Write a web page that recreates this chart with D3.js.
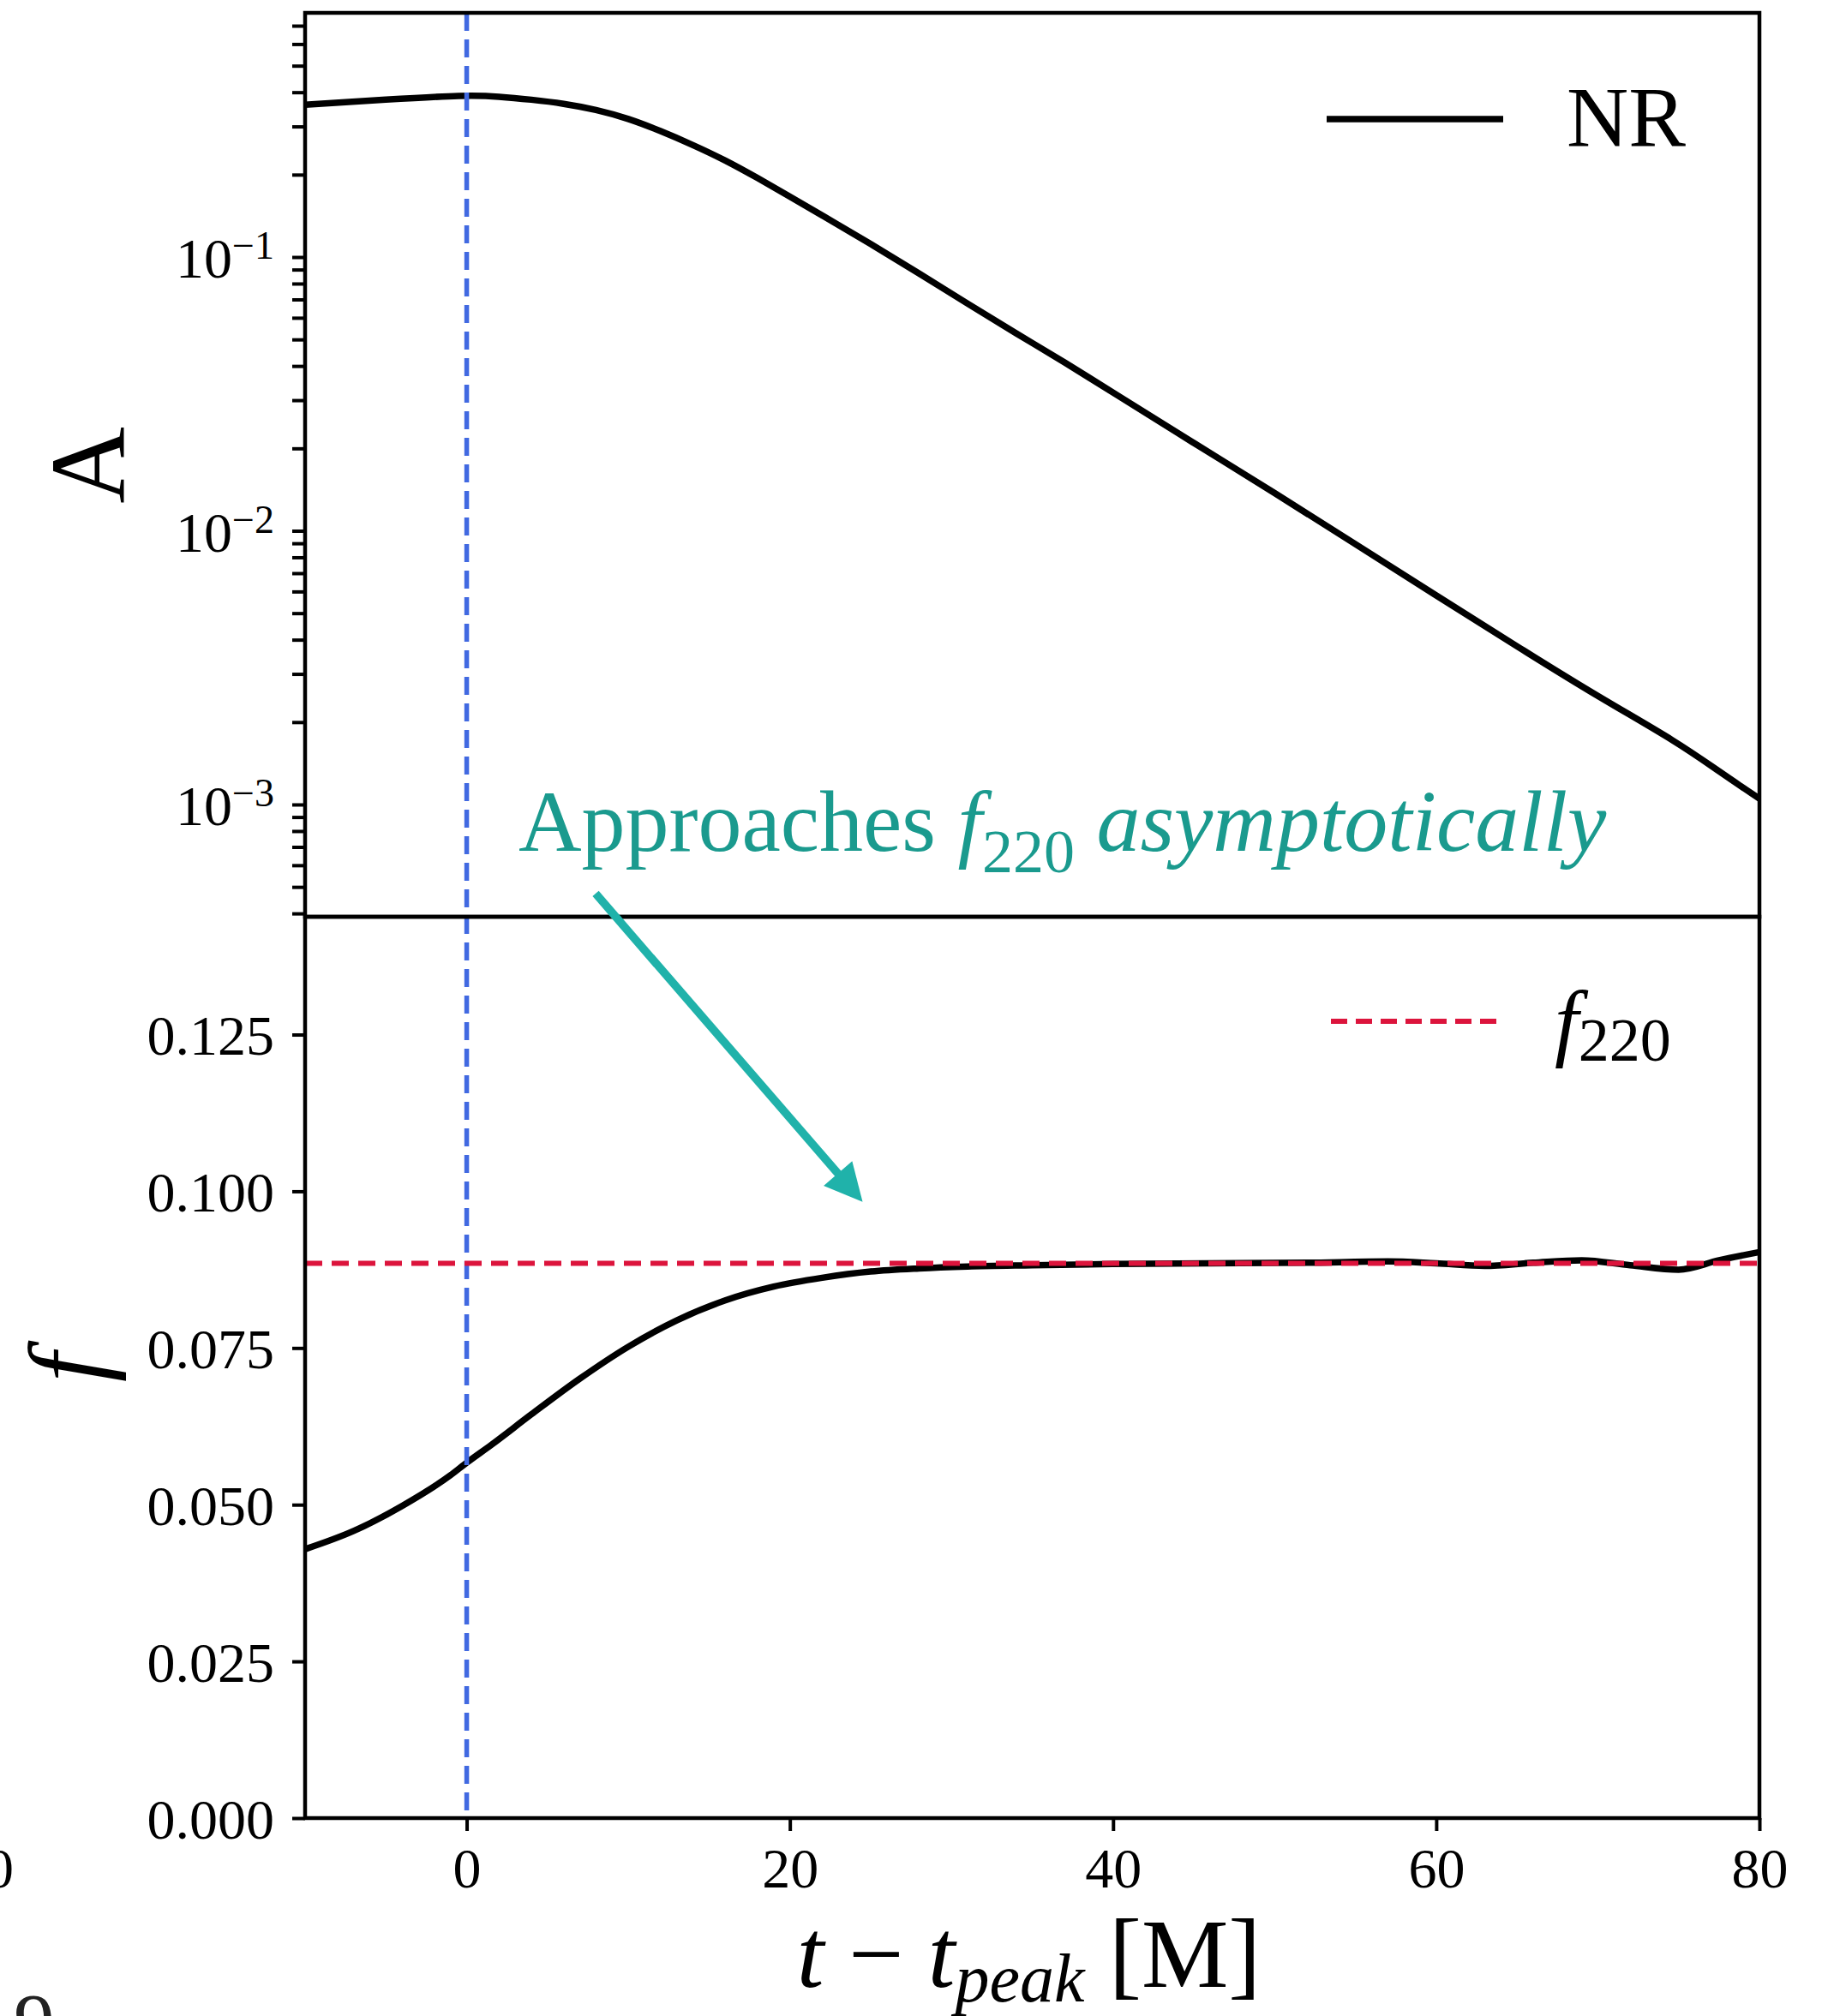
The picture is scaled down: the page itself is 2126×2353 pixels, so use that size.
<!DOCTYPE html>
<html>
<head>
<meta charset="utf-8">
<script src="https://cdn.jsdelivr.net/npm/d3@7"></script>
<style>
    body { margin: 0; background: white; }
    svg { display: block; }
</style>
</head>
<body>
<main></main>
<script>
// amplitude of the NR waveform (upper panel, log axis)
const timesA = [-10, -5, 0, 2, 4, 6, 8, 10, 12, 14, 16, 18, 20, 22, 25, 28, 31, 34, 37, 40, 45, 50, 55, 60, 65, 70, 75, 77.5, 80]
const amplitude = [0.360, 0.376, 0.391, 0.386, 0.376, 0.364, 0.346, 0.321, 0.289, 0.257, 0.226, 0.1945, 0.1663, 0.1419, 0.1117, 0.0872, 0.0675, 0.0526, 0.0413, 0.0320, 0.0209, 0.01377, 0.00893, 0.0058, 0.00378, 0.00248, 0.00168, 0.00132, 0.00105]

// frequency of the NR waveform (lower panel)
const timesF = [-10, -7, -4, -1, 0, 1.5, 4, 7, 10, 13, 16, 19, 22, 25, 28, 31, 35, 40, 46, 52, 57, 60, 63, 66, 69, 72, 75, 77.5, 80]
const frequency = [0.0429, 0.0458, 0.0498, 0.0547, 0.0567, 0.0595, 0.0644, 0.0701, 0.0752, 0.0794, 0.0826, 0.0848, 0.0862, 0.0872, 0.0877, 0.0880, 0.0882, 0.0884, 0.0885, 0.0886, 0.0888, 0.0885, 0.0881, 0.0886, 0.0890, 0.0882, 0.0875, 0.0890, 0.0903]

const f220 = 0.0885
const tPeak = 0

const xTicks = [0, 20, 40, 60, 80]
const ampMajor = [1e-1, 1e-2, 1e-3]
const ampExponents = ["−1", "−2", "−3"]
const freqTicks = [0, 0.025, 0.05, 0.075, 0.1, 0.125]

// annotation arrow, in (t, f) of the lower panel
const arrowFrom = [7.98, 0.1475]
const arrowTo = [24.5, 0.0983]
const notePos = [3.2, 0.1543]

const svgWidth = 2126
const svgHeight = 2353

const left = 356
const right = 2053
const topA = 15
const midY = 1070
const bottomF = 2122

const font = "'Liberation Serif', 'Times New Roman', serif"
const tickFont = 66
const teal = "#1a9a8e"
const arrowTeal = "#20b2aa"

let svg = d3.select("main")
    .append("svg")
    .attr("width", svgWidth)
    .attr("height", svgHeight)
    .style("background-color", "white")
    .style("font-family", font)

let xScale = d3.scaleLinear()
    .domain([-10, 80])
    .range([left, right])

let yAmp = d3.scaleLog()
    .domain([3.89e-4, 0.78])
    .range([midY, topA])

let yFreq = d3.scaleLinear()
    .domain([0, 0.1438])
    .range([bottomF, midY])

// ---- upper panel axis (log, major + minor ticks)
let minorTicks = yAmp.ticks().filter(v => !ampMajor.some(m => Math.abs(v - m) / m < 1e-6))

let ampAxis = svg.append("g")
    .attr("transform", `translate(${left}, 0)`)
    .call(d3.axisLeft(yAmp).tickValues(ampMajor.concat(minorTicks)).tickSize(15).tickSizeOuter(0).tickFormat(""))
ampAxis.select(".domain").remove()
ampAxis.selectAll("line").attr("stroke", "black").attr("stroke-width", 4)

let ampLabels = svg.append("g")
    .selectAll("text")
    .data(ampMajor)
    .enter()
    .append("text")
    .attr("x", left - 36)
    .attr("y", d => yAmp(d) + 24)
    .attr("text-anchor", "end")
    .style("font-size", tickFont + "px")
    .attr("fill", "black")

ampLabels.append("tspan").text("10")
ampLabels.append("tspan")
    .attr("dy", -22)
    .style("font-size", "46px")
    .text((d, i) => ampExponents[i])

// ---- lower panel axes
let freqAxis = svg.append("g")
    .attr("transform", `translate(${left}, 0)`)
    .call(d3.axisLeft(yFreq).tickValues(freqTicks).tickSize(15).tickSizeOuter(0).tickPadding(21).tickFormat(d3.format(".3f")))
freqAxis.select(".domain").remove()
freqAxis.selectAll("line").attr("stroke", "black").attr("stroke-width", 4)
freqAxis.selectAll("text")
    .attr("dy", "0.35em")
    .style("font-size", tickFont + "px")
    .style("font-family", font)
    .attr("fill", "black")

let timeAxis = svg.append("g")
    .attr("transform", `translate(0, ${bottomF})`)
    .call(d3.axisBottom(xScale).tickValues(xTicks).tickSize(15).tickSizeOuter(0).tickPadding(21))
timeAxis.select(".domain").remove()
timeAxis.selectAll("line").attr("stroke", "black").attr("stroke-width", 4)
timeAxis.selectAll("text")
    .attr("dy", "0.68em")
    .style("font-size", tickFont + "px")
    .style("font-family", font)
    .attr("fill", "black")

// ---- curves
let ampLine = d3.line()
    .x((d, i) => xScale(timesA[i]))
    .y(d => yAmp(d))
    .curve(d3.curveBasis)

let freqLine = d3.line()
    .x((d, i) => xScale(timesF[i]))
    .y(d => yFreq(d))
    .curve(d3.curveMonotoneX)

svg.append("path")
    .datum(amplitude)
    .attr("d", ampLine)
    .attr("fill", "none")
    .attr("stroke", "black")
    .attr("stroke-width", 7.5)

svg.append("path")
    .datum(frequency)
    .attr("d", freqLine)
    .attr("fill", "none")
    .attr("stroke", "black")
    .attr("stroke-width", 7.5)

// t_peak marker through both panels
svg.append("line")
    .attr("x1", xScale(tPeak))
    .attr("x2", xScale(tPeak))
    .attr("y1", yAmp.range()[1])
    .attr("y2", yFreq.range()[0])
    .attr("stroke", "#4169e1")
    .attr("stroke-width", 5.5)
    .attr("stroke-dasharray", "21 10")

// f220 reference level
svg.append("line")
    .attr("x1", left)
    .attr("x2", right)
    .attr("y1", yFreq(f220))
    .attr("y2", yFreq(f220))
    .attr("stroke", "#dc143c")
    .attr("stroke-width", 6)
    .attr("stroke-dasharray", "20 11")

// ---- frames
svg.append("rect")
    .attr("x", left).attr("y", topA)
    .attr("width", right - left).attr("height", midY - topA)
    .attr("fill", "none").attr("stroke", "black").attr("stroke-width", 4.5)

svg.append("rect")
    .attr("x", left).attr("y", midY)
    .attr("width", right - left).attr("height", bottomF - midY)
    .attr("fill", "none").attr("stroke", "black").attr("stroke-width", 4.5)

// ---- legends
svg.append("line")
    .attr("x1", 1548).attr("x2", 1754)
    .attr("y1", 139).attr("y2", 139)
    .attr("stroke", "black").attr("stroke-width", 7.5)

svg.append("text")
    .attr("x", 1828).attr("y", 170)
    .style("font-size", "100px")
    .text("NR")

svg.append("line")
    .attr("x1", 1553).attr("x2", 1754)
    .attr("y1", 1192).attr("y2", 1192)
    .attr("stroke", "#dc143c").attr("stroke-width", 6)
    .attr("stroke-dasharray", "19 10")

let legF = svg.append("text")
    .attr("x", 1814).attr("y", 1226)
    .style("font-size", "100px")
legF.append("tspan").style("font-style", "italic").text("f")
legF.append("tspan").attr("dy", 12).style("font-size", "72px").text("220")

// ---- axis labels
svg.append("text")
    .attr("transform", "translate(145, 543) rotate(-90)")
    .attr("text-anchor", "middle")
    .style("font-size", "124px")
    .text("A")

svg.append("text")
    .attr("transform", "translate(120, 1596) rotate(-90)")
    .attr("text-anchor", "middle")
    .style("font-size", "124px")
    .style("font-style", "italic")
    .text("f")

let xLabel = svg.append("text")
    .attr("x", (left + right) / 2 - 4)
    .attr("y", 2319)
    .attr("text-anchor", "middle")
    .style("font-size", "114px")
xLabel.append("tspan").style("font-style", "italic").text("t")
xLabel.append("tspan").text(" − ")
xLabel.append("tspan").style("font-style", "italic").text("t")
xLabel.append("tspan").attr("dy", 17).style("font-style", "italic").style("font-size", "80px").text("peak")
xLabel.append("tspan").attr("dy", -17).text(" [M]")

// ---- annotation
let note = svg.append("text")
    .attr("x", xScale(notePos[0]))
    .attr("y", yFreq(notePos[1]))
    .attr("fill", teal)
    .style("font-size", "102px")
note.append("tspan").text("Approaches ")
note.append("tspan").style("font-style", "italic").text("f")
note.append("tspan").attr("dy", 25).style("font-size", "72px").text("220")
note.append("tspan").attr("dy", -25).style("font-style", "italic").text(" asymptotically")

let p0 = [xScale(arrowFrom[0]), yFreq(arrowFrom[1])]
let p1 = [xScale(arrowTo[0]), yFreq(arrowTo[1])]
let len = Math.hypot(p1[0] - p0[0], p1[1] - p0[1])
let ux = (p1[0] - p0[0]) / len
let uy = (p1[1] - p0[1]) / len
let headLen = 44
let headHalf = 22
let base = [p1[0] - ux * headLen, p1[1] - uy * headLen]

svg.append("line")
    .attr("x1", p0[0]).attr("y1", p0[1])
    .attr("x2", base[0] + ux * 4).attr("y2", base[1] + uy * 4)
    .attr("stroke", arrowTeal)
    .attr("stroke-width", 9.5)

svg.append("polygon")
    .attr("points", [
        p1,
        [base[0] - uy * headHalf, base[1] + ux * headHalf],
        [base[0] + uy * headHalf, base[1] - ux * headHalf]
    ].map(p => p.join(",")).join(" "))
    .attr("fill", arrowTeal)

// ---- bits of neighbouring panels cut by the page edge (as in the source figure)
svg.append("text")
    .attr("x", 16).attr("y", 2203)
    .attr("text-anchor", "end")
    .style("font-size", tickFont + "px")
    .text("80")

svg.append("text")
    .attr("x", 40).attr("y", 2393)
    .attr("text-anchor", "middle")
    .attr("fill", "#222")
    .style("font-size", "96px")
    .text("9")
</script>
</body>
</html>
